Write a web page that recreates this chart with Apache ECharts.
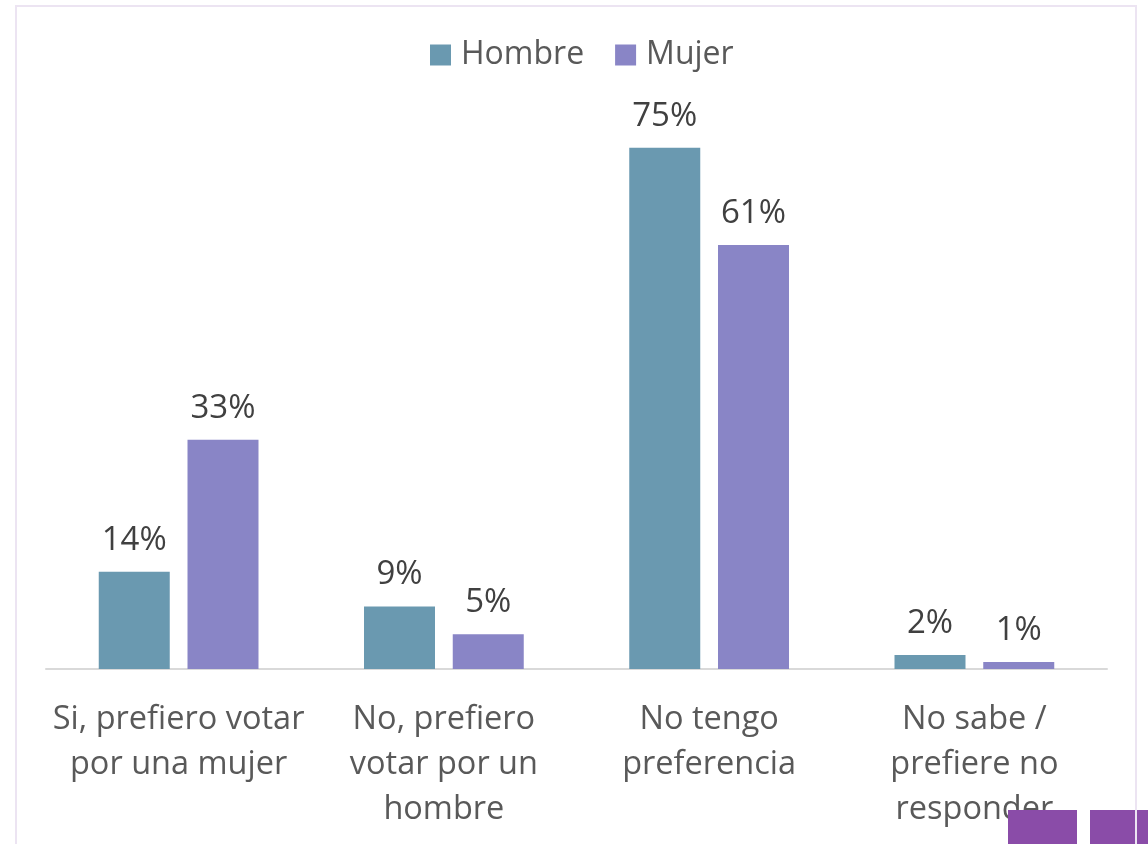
<!DOCTYPE html>
<html>
<head>
<meta charset="utf-8">
<script src="https://cdn.jsdelivr.net/npm/echarts@6/dist/echarts.min.js"></script>
<style>
  html, body { margin: 0; padding: 0; background: #fff; }
  #chart { width: 1148px; height: 844px; }
</style>
</head>
<body>
<div id="chart"></div>
<script>
// categories and values
var categories = [
  'Si, prefiero votar\npor una mujer',
  'No, prefiero\nvotar por un\nhombre',
  'No tengo\npreferencia',
  'No sabe /\nprefiere no\nresponder'
];
var seriesNames = ['Hombre', 'Mujer'];
var hombre = [14, 9, 75, 2];
var mujer = [33, 5, 61, 1];

var font = '"Open Sans", "Noto Sans", sans-serif';
var chart = echarts.init(document.getElementById('chart'));

var option = {
  backgroundColor: '#fff',
  animation: false,
  legend: {
    data: seriesNames,
    top: 34,
    left: 425,
    itemWidth: 21,
    itemHeight: 21,
    itemGap: 31,
    icon: 'rect',
    textStyle: { fontFamily: font, fontSize: 32, color: '#595959', padding: [0, 0, 0, 5] }
  },
  grid: { left: 46, right: 41, top: 113, bottom: 175 },
  xAxis: {
    type: 'category',
    data: categories,
    axisLine: { lineStyle: { color: '#d9d9d9', width: 2 } },
    axisTick: { show: false },
    axisLabel: {
      interval: 0,
      margin: 28,
      fontFamily: font,
      fontSize: 32.5,
      lineHeight: 45,
      color: '#595959'
    }
  },
  yAxis: {
    type: 'value',
    min: 0,
    max: 80,
    show: false,
    splitLine: { show: false }
  },
  series: [
    {
      name: seriesNames[0],
      type: 'bar',
      data: hombre,
      barWidth: 71,
      barGap: '25%',
      itemStyle: { color: '#6a99b0' },
      label: {
        show: true, position: 'top', distance: 15, formatter: '{c}%',
        fontFamily: font, fontSize: 33, color: '#404040'
      }
    },
    {
      name: seriesNames[1],
      type: 'bar',
      data: mujer,
      barWidth: 71,
      barGap: '25%',
      itemStyle: { color: '#8985c6' },
      label: {
        show: true, position: 'top', distance: 15, formatter: '{c}%',
        fontFamily: font, fontSize: 33, color: '#404040'
      }
    }
  ],
  graphic: [
    // purple blocks in the bottom right corner
    { type: 'rect', shape: { x: 1008, y: 810, width: 69, height: 40 }, style: { fill: '#8a4ca8' }, z: 10 },
    { type: 'rect', shape: { x: 1090, y: 810, width: 60, height: 40 }, style: { fill: '#8a4ca8' }, z: 10 },
    // frame round the chart
    { type: 'rect', shape: { x: 16, y: 6, width: 1120, height: 900 }, style: { fill: 'none', stroke: '#ece4f2', lineWidth: 2 }, z: 20 }
  ]
};

chart.setOption(option);
</script>
</body>
</html>
